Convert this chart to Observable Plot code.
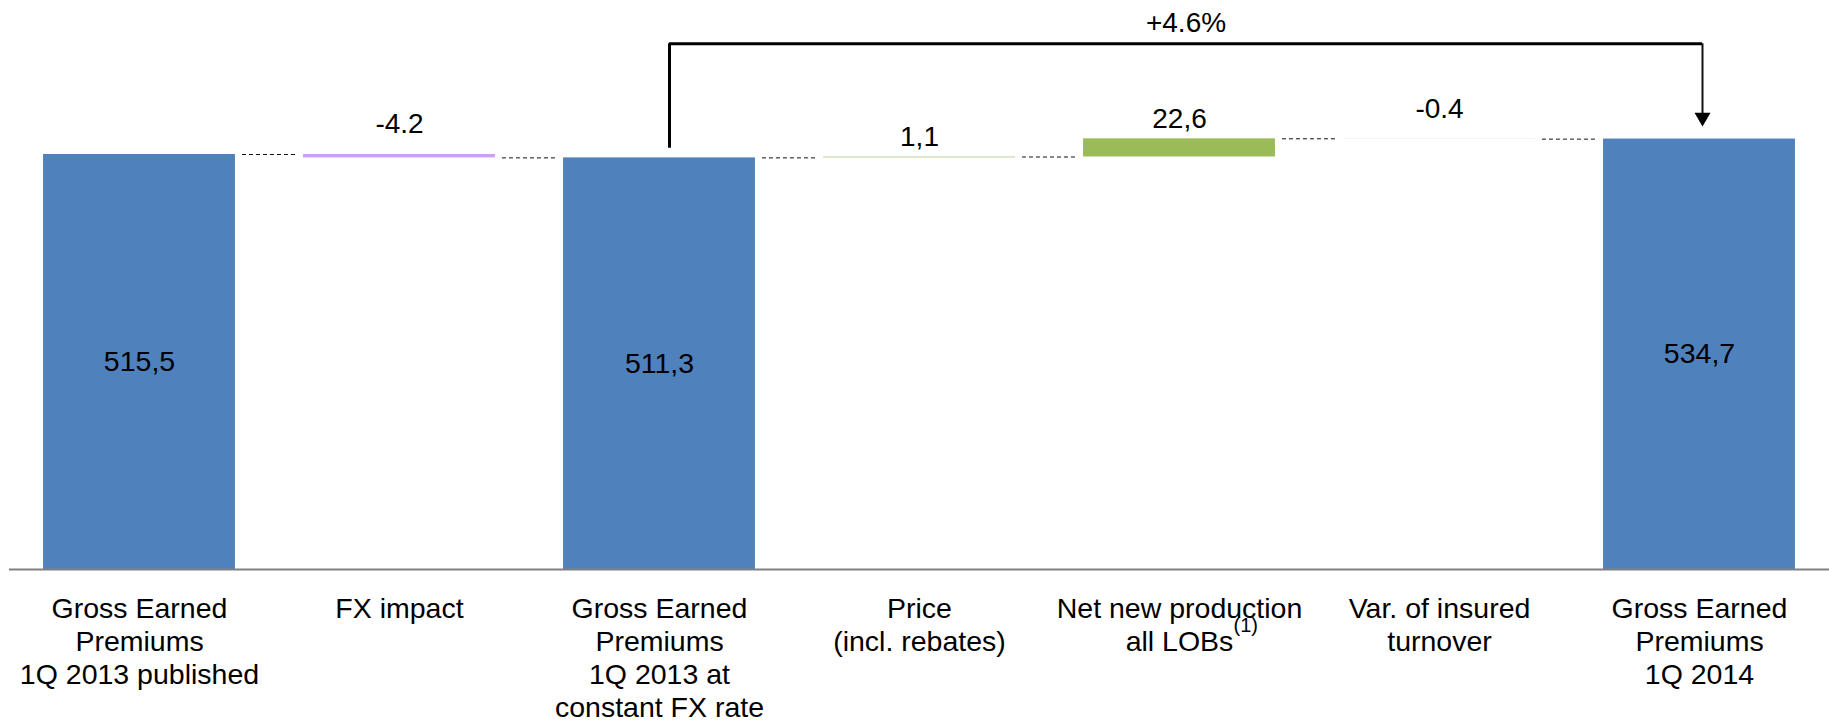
<!DOCTYPE html>
<html>
<head>
<meta charset="utf-8">
<script src="https://cdn.jsdelivr.net/npm/d3@7"></script>
<script src="https://cdn.jsdelivr.net/npm/@observablehq/plot@0.6"></script>
<style>
  body { margin: 0; background: #fff; }
  svg { display: block; }
</style>
</head>
<body>
<div id="chart"></div>
<script>
// Gross earned premiums bridge, 1Q 2013 -> 1Q 2014
const categories = [
  "Gross Earned\nPremiums\n1Q 2013 published",
  "FX impact",
  "Gross Earned\nPremiums\n1Q 2013 at\nconstant FX rate",
  "Price\n(incl. rebates)",
  "Net new production\nall LOBs",
  "Var. of insured\nturnover",
  "Gross Earned\nPremiums\n1Q 2014"
];
const kinds = ["total", "delta", "total", "delta", "delta", "delta", "total"];
const values = [515.5, -4.2, 511.3, 1.1, 22.6, -0.4, 534.7];
const valueLabels = ["515,5", "-4.2", "511,3", "1,1", "22,6", "-0.4", "534,7"];
const footnoteMark = "(1)";

// styling
const barColors = ["#4f81bd", "#cb9ff6", "#4f81bd", "#b2cd84", "#9bbb59", "#e4d2ff", "#4f81bd"];
const FONT = "'Liberation Sans', Arial, Helvetica, sans-serif";
const HALF = 0.369;      // half bar width, in category steps
const GAP = 0.027;       // gap between bar edge and connector
const STEP_PX = 260;

// running totals for the waterfall
let run = 0;
const rows = values.map((v, i) => {
  let start, end;
  if (kinds[i] === "total") { start = 0; end = v; }
  else { start = run; end = run + v; }
  run = end;
  return { i, category: categories[i], kind: kinds[i], value: v, start, end,
           label: valueLabels[i], color: barColors[i] };
});
const totals = rows.filter(d => d.kind === "total");
const deltas = rows.filter(d => d.kind === "delta");
const connectors = rows.slice(0, -1).map(d => ({ i: d.i, level: d.end }));

// bracket from the constant-FX base to the final total
const base = rows[2], final = rows[6];
const growth = d3.format("+.1%")(final.value / base.value - 1);
const BRACKET = 653;       // level of the horizontal bracket line
const LEFT_GAP = 12;       // clearance above the base bar
const ARROW_GAP = 15.5;    // clearance between arrow tip and final bar
const leftX = base.i + 10 / STEP_PX;
const rightX = final.i + 3 / STEP_PX;

const chart = Plot.plot({
  width: 1829,
  height: 720,
  marginLeft: 9,
  marginRight: 0,
  marginTop: 0,
  marginBottom: 151,
  x: { domain: [-0.5, 6.5], axis: null },
  y: { domain: [0, 706.8], axis: null },
  color: { type: "identity" },
  style: { fontFamily: FONT, fontSize: "28px", background: "#fff", color: "#000" },
  marks: [
    Plot.rectY(rows, {
      x1: d => d.i - HALF, x2: d => d.i + HALF,
      y1: "start", y2: "end", fill: "color"
    }),
    Plot.ruleY(connectors, {
      y: "level",
      x1: d => d.i + HALF + GAP, x2: d => d.i + 1 - HALF - GAP,
      stroke: "#111", strokeWidth: 1, strokeDasharray: "4,3"
    }),
    Plot.ruleY([0], { stroke: "#808080", strokeWidth: 2 }),
    // values inside the totals
    Plot.text(totals, { x: "i", y: d => d.end / 2, text: "label", fontSize: 28.5, fill: "#000" }),
    // values above the variations
    Plot.text(deltas.filter(d => d.value < 0), {
      x: "i", y: d => Math.max(d.start, d.end), text: "label", dy: -30, fontSize: 28, fill: "#000"
    }),
    Plot.text(deltas.filter(d => d.value >= 0), {
      x: "i", y: d => Math.max(d.start, d.end), text: "label", dy: -20, fontSize: 28, fill: "#000"
    }),
    // category labels
    Plot.text(rows, {
      x: "i", y: () => 0, text: "category", lineAnchor: "top", dy: 25,
      fontSize: 28.5, lineHeight: 1.16, fill: "#000"
    }),
    Plot.text([rows[4]], {
      x: "i", y: () => 0, text: () => footnoteMark, textAnchor: "start", lineAnchor: "top",
      dx: 54, dy: 48, fontSize: 20, fill: "#000"
    }),
    // growth bracket
    Plot.ruleX([base], { x: () => leftX, y1: d => d.end + LEFT_GAP, y2: () => BRACKET, stroke: "#000", strokeWidth: 3 }),
    Plot.ruleY([BRACKET], { x1: () => leftX, x2: () => rightX, stroke: "#000", strokeWidth: 3 }),
    Plot.ruleX([final], { x: () => rightX, y1: d => d.end + ARROW_GAP + 8, y2: () => BRACKET, stroke: "#111", strokeWidth: 2 }),
    Plot.dot([final], {
      x: () => rightX, y: d => d.end + ARROW_GAP, symbol: "triangle", r: 5.94,
      rotate: 180, fill: "#000", stroke: "none", dy: -9.2
    }),
    Plot.text([growth], { x: () => (leftX + rightX) / 2, y: () => BRACKET, text: d => d, dy: -21, fontSize: 28, fill: "#000" })
  ]
});
document.getElementById("chart").append(chart);
</script>
</body>
</html>
